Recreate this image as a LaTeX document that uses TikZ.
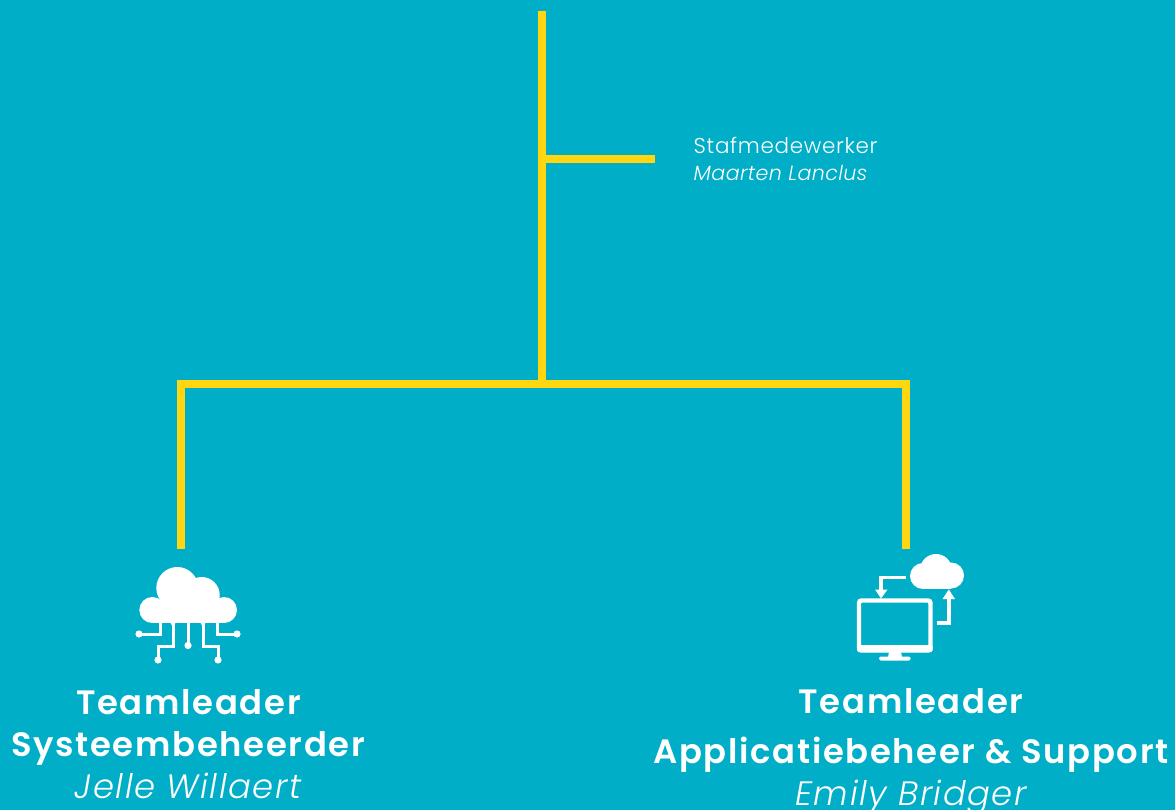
\documentclass[tikz,border=0pt]{standalone}
\usepackage{fontspec}
\setmainfont{Poppins}
\newfontfamily\hfont[LetterSpace=5,UprightFont={* SemiBold},ItalicFont={* Italic}]{Poppins}
\newfontfamily\sfont[LetterSpace=4.5,UprightFont={* Light},ItalicFont={* Light Italic}]{Poppins}
\newfontfamily\tfont[LetterSpace=3.2,UprightFont={* Light},ItalicFont={* Light Italic}]{Poppins}
\newfontfamily\ufont[LetterSpace=2,UprightFont={* Light},ItalicFont={* Light Italic}]{Poppins}
\definecolor{bgteal}{HTML}{00AEC7}
\definecolor{lineyellow}{HTML}{FFD60F}
\tikzset{
  orgline/.style={draw=lineyellow,line width=8pt,line cap=butt,line join=miter},
  headtext/.style={text=white,inner sep=0pt,anchor=base,font=\hfont\fontsize{33.8}{34}\selectfont},
  nametext/.style={text=white,inner sep=0pt,anchor=base,font=\sfont\itshape\fontsize{33.8}{34}\selectfont},
  smalltext/.style={text=white,inner sep=0pt,anchor=base west,font=\tfont\fontsize{21.5}{22}\selectfont},
  smallname/.style={text=white,inner sep=0pt,anchor=base west,font=\ufont\itshape\fontsize{20.6}{22}\selectfont},
  wire/.style={draw=white,line width=3pt,line cap=butt,line join=miter,fill=none},
  iconfill/.style={fill=white,draw=none}
}
\begin{document}
\begin{tikzpicture}[x=1pt,y=-1pt]
\fill[bgteal] (0,0) rectangle (1175,810);
\useasboundingbox (0,0) rectangle (1175,810);
% connectors
\coordinate (top) at (542,11);
\coordinate (jstaf) at (542,159);
\coordinate (staf) at (655,159);
\coordinate (jmain) at (542,383.5);
\coordinate (leftend) at (181,549);
\coordinate (rightend) at (906,549);
\draw[orgline] (top) -- (jmain);
\draw[orgline] (jstaf) -- (staf);
\draw[orgline] (leftend) |- (jmain) -| (rightend);
% staff text
\node[smalltext] (stafa) at (693.5,154) {Stafmedewerker};
\node[smallname] (stafb) at (693.5,180.5) {Maarten Lanclus};
% left icon
\fill[iconfill] (177.3,588) circle (21);
\fill[iconfill] (201.7,595) circle (18);
\fill[iconfill] (152.3,610) circle (13);
\fill[iconfill] (224,610) circle (13);
\fill[iconfill] (152.3,600) rectangle (224,623);
\draw[wire] (160,622) -- (160,634) -- (139,634);
\fill[iconfill] (139,634) circle (3.6);
\draw[wire] (217,622) -- (217,634) -- (237,634);
\fill[iconfill] (237,634) circle (3.6);
\draw[wire] (173,622) -- (173,646) -- (158,646) -- (158,660);
\fill[iconfill] (158,660) circle (3.6);
\draw[wire] (203,622) -- (203,646) -- (218,646) -- (218,660);
\fill[iconfill] (218,660) circle (3.6);
\draw[wire] (188,622) -- (188,645);
\fill[iconfill] (188,645.5) circle (3.6);
\fill[iconfill] (170,622) -- (176,622) -- (173,627) -- cycle;
\fill[iconfill] (200,622) -- (206,622) -- (203,627) -- cycle;
% right icon: cloud
\fill[iconfill] (936,570) circle (16);
\fill[iconfill] (951,575.5) circle (13);
\fill[iconfill] (923,576) circle (13);
\fill[iconfill] (923,579) rectangle (951,589);
% monitor
\draw[draw=white,line width=4.4pt,rounded corners=2.5pt] (859,600.5) rectangle (930.5,650.5);
\fill[iconfill,rounded corners=1.5pt] (857,645) rectangle (932.5,652);
\fill[iconfill] (889,652) -- (901,652) -- (902,657) -- (888,657) -- cycle;
\fill[iconfill,rounded corners=1.5pt] (879,656.5) rectangle (910.5,660.5);
% arrows
\draw[wire,line width=3.6pt] (906,577.5) -- (881,577.5) -- (881,592);
\fill[iconfill] (875,589.5) -- (887.5,589.5) -- (881,598.5) -- cycle;
\draw[wire,line width=3.6pt] (937,623) -- (949,623) -- (949,597);
\fill[iconfill] (942.5,599) -- (955,599) -- (948.8,589.5) -- cycle;
% left text
\node[headtext] (la) at (188.5,714) {Teamleader};
\node[headtext] (lb) at (188,756) {Systeembeheerder};
\node[nametext] (lc) at (188,798) {Jelle Willaert};
% right text
\node[headtext] (ra) at (911,713) {Teamleader};
\node[headtext] (rb) at (911,763) {Applicatiebeheer \& Support};
\node[nametext] (rc) at (911,805) {Emily Bridger};
\end{tikzpicture}
\end{document}
